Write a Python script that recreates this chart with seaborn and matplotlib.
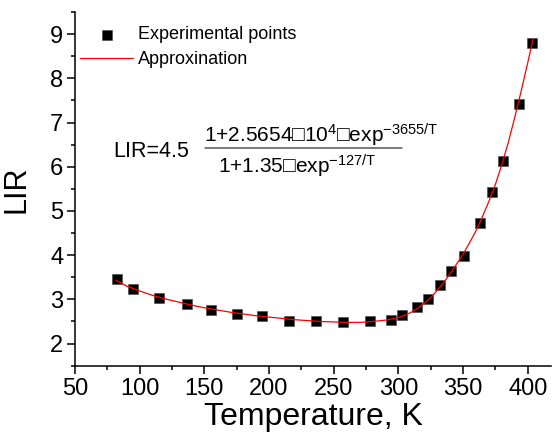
import numpy as np
import pandas as pd
import matplotlib
matplotlib.use("Agg")
import matplotlib.pyplot as plt
import seaborn as sns
from matplotlib.ticker import MultipleLocator

# experimental points
temp_exp = [82.2, 95.1, 114.9, 136.8, 155.1, 175.0, 194.8, 215.7, 236.0, 256.9,
            278.0, 294.0, 303.0, 314.1, 322.6, 332.1, 340.9, 350.7, 362.8, 372.6,
            381.1, 393.0, 403.3]
lir_exp = [3.45, 3.24, 3.03, 2.89, 2.77, 2.66, 2.62, 2.52, 2.50, 2.49,
           2.50, 2.53, 2.65, 2.83, 3.01, 3.33, 3.64, 3.99, 4.73, 5.44,
           6.14, 7.42, 8.79]

# approximation curve
temp_fit = [82, 90, 100, 110, 120, 130, 140, 150, 160, 170, 180, 190, 200, 210, 220,
            230, 240, 250, 260, 270, 280, 290, 300, 305, 310, 315, 320, 325, 330,
            335, 340, 345, 350, 355, 360, 365, 370, 375, 380, 385, 390, 395, 400, 404]
lir_fit = [3.43, 3.30, 3.19, 3.09, 3.01, 2.94, 2.87, 2.81, 2.76, 2.71, 2.67, 2.63,
           2.60, 2.57, 2.54, 2.52, 2.50, 2.49, 2.48, 2.48, 2.50, 2.53, 2.59, 2.64,
           2.71, 2.80, 2.91, 3.04, 3.20, 3.38, 3.58, 3.80, 4.02, 4.28, 4.55, 4.87,
           5.22, 5.60, 6.05, 6.55, 7.12, 7.72, 8.35, 8.88]

x_ticks = [50, 100, 150, 200, 250, 300, 350, 400]
y_ticks = [2, 3, 4, 5, 6, 7, 8, 9]

df_exp = pd.DataFrame({"T": temp_exp, "LIR": lir_exp})
df_fit = pd.DataFrame({"T": temp_fit, "LIR": lir_fit})

sns.set_theme(style="ticks")
plt.rcParams["font.family"] = ["Liberation Sans", "DejaVu Sans"]
plt.rcParams["mathtext.fontset"] = "custom"
plt.rcParams["mathtext.rm"] = "Liberation Sans"
plt.rcParams["mathtext.it"] = "Liberation Sans:italic"
plt.rcParams["mathtext.default"] = "regular"
plt.rcParams["text.color"] = "black"
plt.rcParams["axes.labelcolor"] = "black"

fig = plt.figure(figsize=(5.52, 4.48), dpi=100)
ax = fig.add_axes([0.1359, 0.1837, 0.8623, 0.7895])

sns.scatterplot(data=df_exp, x="T", y="LIR", marker="s", s=60, color="black",
                edgecolor="#444444", linewidth=0.4, label="Experimental points",
                ax=ax, zorder=3)
sns.lineplot(data=df_fit, x="T", y="LIR", color="red", linewidth=0.9,
             label="Approxination", ax=ax, zorder=4)

ax.set_xlim(50, 418)
ax.set_ylim(1.5, 9.5)
ax.set_xticks(x_ticks)
ax.set_yticks(y_ticks)
ax.xaxis.set_minor_locator(MultipleLocator(25))
ax.yaxis.set_minor_locator(MultipleLocator(0.5))
ax.tick_params(which="major", direction="out", length=5.5, width=1.1,
               labelsize=17, color="black", labelcolor="black", pad=3)
ax.tick_params(which="minor", direction="out", length=3, width=1.1, color="black")

for side in ["top", "right"]:
    ax.spines[side].set_visible(False)
for side in ["left", "bottom"]:
    ax.spines[side].set_linewidth(1.1)
    ax.spines[side].set_color("black")

ax.set_xlabel("Temperature, K", fontsize=23, labelpad=2)
ax.set_ylabel("LIR", fontsize=22, labelpad=13)

ax.legend(loc="upper left", bbox_to_anchor=(0.0, 0.975), frameon=False, fontsize=13,
          handlelength=2.9, handletextpad=0.3, labelspacing=0.45, borderaxespad=0.1,
          borderpad=0.2, markerscale=1.0)

# formula (the multiplication signs show as empty boxes in the original)
box = "\u25a1"
ax.text(0.080, 0.591, "LIR=4.5", transform=ax.transAxes, fontsize=15.5,
        ha="left", va="baseline")
ax.text(0.271, 0.632, f"1+2.5654{box}10$^{{4}}${box}exp$^{{-3655/T}}$",
        transform=ax.transAxes, fontsize=15, ha="left", va="baseline")
ax.text(0.300, 0.544, f"1+1.35{box}exp$^{{-127/T}}$", transform=ax.transAxes,
        fontsize=15, ha="left", va="baseline")
ax.plot([0.273, 0.687], [0.6155, 0.6155], transform=ax.transAxes,
        color="#555555", linewidth=1.1)

fig.savefig("out.png", dpi=100)
